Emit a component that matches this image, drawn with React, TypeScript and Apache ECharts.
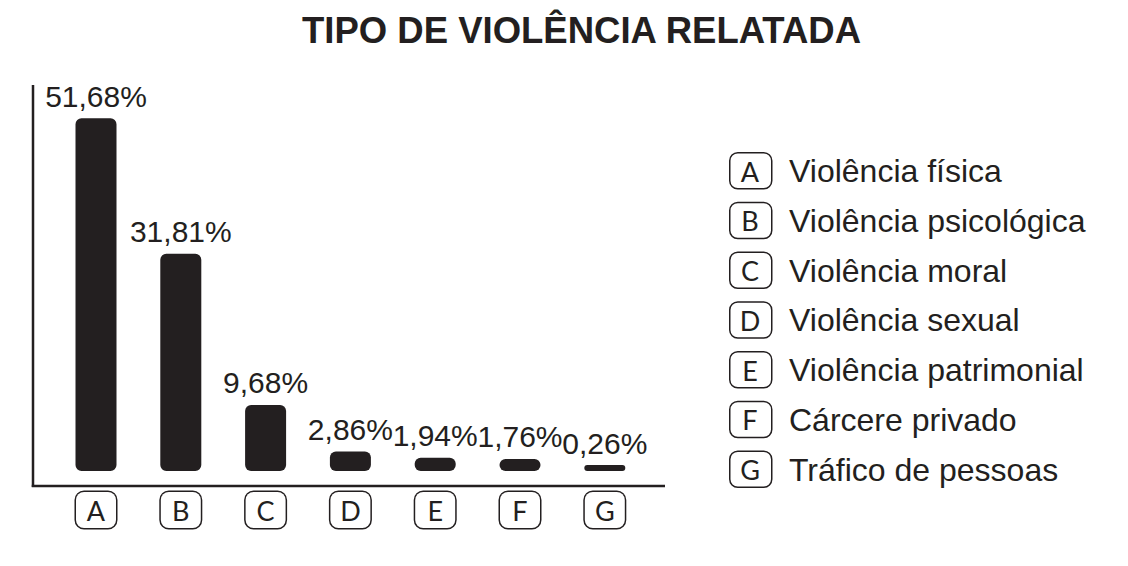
import React, { useEffect, useRef } from "react";
import * as echarts from "echarts";

const title = "TIPO DE VIOLÊNCIA RELATADA";
const categories = ["A", "B", "C", "D", "E", "F", "G"];
const values = [51.68, 31.81, 9.68, 2.86, 1.94, 1.76, 0.26];
const legendNames = [
  "Violência física",
  "Violência psicológica",
  "Violência moral",
  "Violência sexual",
  "Violência patrimonial",
  "Cárcere privado",
  "Tráfico de pessoas",
];

const INK = "#231f20";
const SANS = "'Liberation Sans', Arial, Helvetica, sans-serif";
const BOXFONT = "Lato, 'Open Sans', sans-serif";

export default function App() {
  const ref = useRef<HTMLDivElement>(null);

  useEffect(() => {
    if (!ref.current) return;
    const chart = echarts.init(ref.current, null, { renderer: "svg" });

    const legendGraphics: any[] = [];
    const rowTop = 170;
    const rowStep = 49.75;
    categories.forEach((c, i) => {
      const cy = rowTop + i * rowStep;
      legendGraphics.push({
        type: "rect",
        left: 729,
        top: cy - 18,
        shape: { width: 42, height: 36, r: 8 },
        style: { fill: "#fff", stroke: INK, lineWidth: 1.5 },
        silent: true,
      });
      legendGraphics.push({
        type: "text",
        x: 750,
        y: cy + 1,
        style: {
          text: c,
          fill: INK,
          font: `27px ${BOXFONT}`,
          textAlign: "center",
          textVerticalAlign: "middle",
        },
        silent: true,
      });
      legendGraphics.push({
        type: "text",
        x: 789,
        y: cy + 1,
        style: {
          text: legendNames[i],
          fill: INK,
          font: `32px ${SANS}`,
          textAlign: "left",
          textVerticalAlign: "middle",
        },
        silent: true,
      });
    });

    chart.setOption({
      animation: false,
      backgroundColor: "#ffffff",
      title: {
        text: title,
        left: 297,
        top: 7,
        textStyle: {
          fontFamily: SANS,
          fontWeight: "bold",
          fontSize: 36.5,
          color: INK,
        },
      },
      grid: { left: 53.6, width: 593.6, top: 116, bottom: 95 },
      xAxis: {
        type: "category",
        data: categories,
        axisLine: { show: false },
        axisTick: { show: false },
        axisLabel: {
          margin: 21,
          color: INK,
          fontFamily: BOXFONT,
          fontSize: 27,
          width: 40,
          height: 36,
          lineHeight: 36,
          align: "center",
          borderColor: INK,
          borderWidth: 1.5,
          borderRadius: 8,
          backgroundColor: "#fff",
          padding: [0, 0, 0, 0],
        },
      },
      yAxis: {
        type: "value",
        min: 0,
        max: 52,
        axisLine: { show: false },
        axisTick: { show: false },
        axisLabel: { show: false },
        splitLine: { show: false },
      },
      series: [
        {
          type: "bar",
          data: values,
          barWidth: 41,
          barMinHeight: 6,
          itemStyle: { color: INK, borderRadius: 6 },
          label: {
            show: true,
            position: "top",
            distance: 7,
            color: INK,
            fontFamily: SANS,
            fontSize: 30,
            formatter: (p: any) => p.value.toFixed(2).replace(".", ",") + "%",
          },
        },
      ],
      graphic: [
        {
          type: "line",
          shape: { x1: 33, y1: 85, x2: 33, y2: 487 },
          style: { stroke: INK, lineWidth: 2.5 },
          silent: true,
        },
        {
          type: "line",
          shape: { x1: 31.75, y1: 486, x2: 665, y2: 486 },
          style: { stroke: INK, lineWidth: 2.5 },
          silent: true,
        },
        ...legendGraphics,
      ],
    });

    return () => chart.dispose();
  }, []);

  return (
    <div
      ref={ref}
      style={{ position: "fixed", left: 0, top: 0, width: 1128, height: 566 }}
    />
  );
}
